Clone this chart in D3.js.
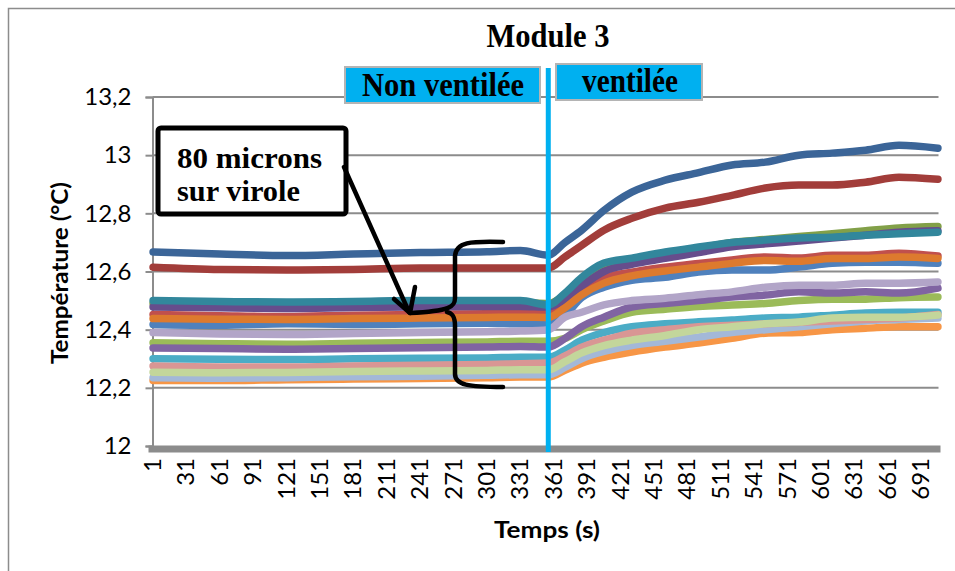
<!DOCTYPE html>
<html><head><meta charset="utf-8">
<script src="https://cdn.jsdelivr.net/npm/d3@7/dist/d3.min.js"></script>
<style>
html,body{margin:0;padding:0;background:#fff;}
svg{display:block;}
</style>
</head><body>
<svg id="chart" width="955" height="571"></svg>
<script>
// ---------- DATA ----------
const times = [1, 61, 121, 181, 241, 301, 331, 356, 371, 386, 406, 431, 461, 491, 521, 551, 581, 611, 641, 671, 706];
const nPoints = 706;
const ventTime = 356;
const xTickLabels = [1,31,61,91,121,151,181,211,241,271,301,331,361,391,421,451,481,511,541,571,601,631,661,691];
const yTickLabels = [12, 12.2, 12.4, 12.6, 12.8, 13, 13.2];

const s1  = [12.418,12.415,12.420,12.418,12.420,12.422,12.420,12.420,12.450,12.510,12.546,12.570,12.580,12.598,12.605,12.605,12.615,12.628,12.632,12.632,12.628];
const s2  = [12.452,12.448,12.445,12.450,12.452,12.455,12.456,12.455,12.490,12.536,12.577,12.598,12.615,12.628,12.640,12.650,12.646,12.656,12.656,12.663,12.653];
const s3  = [12.355,12.352,12.350,12.353,12.356,12.358,12.360,12.360,12.370,12.400,12.430,12.460,12.470,12.480,12.485,12.490,12.500,12.505,12.505,12.510,12.512];
const s4  = [12.337,12.335,12.333,12.335,12.338,12.340,12.342,12.340,12.370,12.410,12.443,12.478,12.490,12.500,12.512,12.519,12.530,12.526,12.530,12.526,12.543];
const s5  = [12.300,12.298,12.297,12.300,12.302,12.303,12.305,12.305,12.330,12.364,12.390,12.410,12.420,12.427,12.433,12.440,12.443,12.450,12.457,12.460,12.460];
const s6  = [12.225,12.225,12.228,12.230,12.232,12.235,12.237,12.237,12.260,12.285,12.305,12.323,12.340,12.354,12.370,12.388,12.390,12.400,12.405,12.410,12.410];
const s7  = [12.667,12.660,12.655,12.660,12.665,12.668,12.672,12.656,12.700,12.742,12.810,12.873,12.914,12.940,12.966,12.976,13.000,13.007,13.017,13.034,13.024];
const s8  = [12.615,12.607,12.605,12.607,12.612,12.612,12.612,12.612,12.650,12.690,12.742,12.783,12.818,12.838,12.862,12.887,12.897,12.897,12.907,12.924,12.917];
const s9  = [12.490,12.488,12.487,12.490,12.490,12.492,12.493,12.490,12.520,12.570,12.615,12.640,12.660,12.680,12.700,12.710,12.720,12.730,12.740,12.750,12.755];
const s10 = [12.478,12.475,12.473,12.476,12.478,12.480,12.480,12.478,12.505,12.550,12.600,12.625,12.645,12.665,12.685,12.695,12.705,12.715,12.725,12.735,12.740];
const s11 = [12.500,12.497,12.495,12.497,12.500,12.500,12.500,12.485,12.526,12.580,12.629,12.646,12.667,12.684,12.700,12.708,12.715,12.718,12.725,12.730,12.735];
const s12 = [12.438,12.436,12.435,12.438,12.440,12.442,12.443,12.442,12.475,12.520,12.560,12.585,12.602,12.615,12.628,12.638,12.635,12.645,12.645,12.650,12.645];
const s13 = [12.235,12.233,12.235,12.238,12.240,12.243,12.245,12.245,12.270,12.300,12.325,12.345,12.360,12.375,12.390,12.400,12.410,12.420,12.430,12.435,12.440];
const s14 = [12.275,12.272,12.272,12.275,12.278,12.280,12.283,12.285,12.310,12.340,12.364,12.388,12.400,12.410,12.415,12.420,12.425,12.430,12.435,12.440,12.452];
const s15 = [12.254,12.252,12.253,12.256,12.258,12.260,12.262,12.262,12.290,12.320,12.345,12.364,12.380,12.400,12.410,12.420,12.426,12.440,12.443,12.443,12.450];
const s16 = [12.390,12.385,12.383,12.387,12.390,12.393,12.395,12.400,12.443,12.460,12.485,12.500,12.508,12.520,12.530,12.546,12.553,12.553,12.560,12.560,12.564];

const seriesValues = [s1,s2,s3,s4,s5,s6,s7,s8,s9,s10,s11,s12,s13,s14,s15,s16];
const seriesColors = ["#4F81BD","#C0504D","#9BBB59","#8064A2","#4BACC6","#F79646",
                      "#3B6598","#A23D3A","#82A048","#664D8C","#32879C","#DD7A2E",
                      "#A3B8D8","#D99694","#C3D69B","#B2A5C8"];

// ---------- LAYOUT ----------
const svg = d3.select("#chart");
const plotL = 152.5, plotR = 938.5, plotT = 97, plotB = 446;

const x = d3.scaleLinear().domain([0.5, nPoints + 0.5]).range([plotL, plotR]);
const y = d3.scaleLinear().domain([12, 13.2]).range([plotB, plotT]);

// outer border
svg.append("rect").attr("x", 8.5).attr("y", 8.5).attr("width", 970).attr("height", 600)
  .attr("fill", "none").attr("stroke", "#8C8C8C").attr("stroke-width", 1.5);

// gridlines
svg.append("g").selectAll("line").data(yTickLabels.filter(v => v > 12)).join("line")
  .attr("x1", plotL).attr("x2", plotR)
  .attr("y1", d => y(d)).attr("y2", d => y(d))
  .attr("stroke", "#8C8C8C").attr("stroke-width", 2);

// y axis
const yAxis = d3.axisLeft(y).tickValues(yTickLabels).tickSize(7).tickPadding(14)
  .tickFormat(d => String(d).replace(".", ","));
const gy = svg.append("g").attr("transform", `translate(${plotL},0)`).call(yAxis);
gy.select(".domain").attr("stroke", "#8C8C8C").attr("stroke-width", 2);
gy.selectAll(".tick line").attr("stroke", "#8C8C8C").attr("stroke-width", 2);
gy.selectAll(".tick text").attr("font-family", "Lato, 'Open Sans', sans-serif")
  .attr("font-size", 24).attr("fill", "#000");

// lines
const line = d3.line().x((d, i) => x(times[i])).y(d => y(d)).curve(d3.curveMonotoneX);
svg.append("g").selectAll("path").data(seriesValues).join("path")
  .attr("d", d => line(d))
  .attr("fill", "none")
  .attr("stroke", (d, i) => seriesColors[i])
  .attr("stroke-width", 7.5)
  .attr("stroke-linejoin", "round").attr("stroke-linecap", "round");

// x axis band (base line at 12)
svg.append("line").attr("x1", plotL - 4).attr("x2", plotR + 2)
  .attr("y1", y(12) + 3).attr("y2", y(12) + 3)
  .attr("stroke", "#8C8C8C").attr("stroke-width", 7);

// x tick labels
svg.append("g").selectAll("text").data(xTickLabels).join("text")
  .attr("transform", d => `translate(${x(d) + 8},458) rotate(-90)`)
  .attr("text-anchor", "end")
  .attr("font-family", "Lato, 'Open Sans', sans-serif")
  .attr("font-size", 24).attr("fill", "#000")
  .text(d => d);

// axis titles
svg.append("text").attr("transform", "translate(68,273) rotate(-90)")
  .attr("text-anchor", "middle")
  .attr("font-family", "Lato, 'Open Sans', sans-serif").attr("font-weight", "bold")
  .attr("font-size", 22).attr("textLength", 182).attr("lengthAdjust", "spacingAndGlyphs")
  .text("Température (°C)");
svg.append("text").attr("x", 547).attr("y", 538)
  .attr("text-anchor", "middle")
  .attr("font-family", "Lato, 'Open Sans', sans-serif").attr("font-weight", "bold")
  .attr("font-size", 22).attr("textLength", 106).attr("lengthAdjust", "spacingAndGlyphs")
  .text("Temps (s)");

// title
svg.append("text").attr("x", 548).attr("y", 47).attr("text-anchor", "middle")
  .attr("font-family", "'Liberation Serif', 'Times New Roman', serif").attr("font-weight", "bold")
  .attr("font-size", 34).attr("textLength", 123).attr("lengthAdjust", "spacingAndGlyphs")
  .text("Module 3");

// ventilation marker line
svg.append("line").attr("x1", x(ventTime)).attr("x2", x(ventTime))
  .attr("y1", 68).attr("y2", 452)
  .attr("stroke", "#00B0F0").attr("stroke-width", 5);

// phase boxes
const boxes = [
  {label: "Non ventilée", x0: 345, x1: 540, y0: 67, y1: 103, tx: 443, ty: 96, tl: 162},
  {label: "ventilée", x0: 556, x1: 702, y0: 64, y1: 100, tx: 630, ty: 92, tl: 96}
];
boxes.forEach(b => {
  svg.append("rect").attr("x", b.x0).attr("y", b.y0).attr("width", b.x1 - b.x0).attr("height", b.y1 - b.y0)
    .attr("fill", "#00B0F0").attr("stroke", "#B4B4B4").attr("stroke-width", 2);
  svg.append("text").attr("x", b.tx).attr("y", b.ty).attr("text-anchor", "middle")
    .attr("font-family", "'Liberation Serif', 'Times New Roman', serif").attr("font-weight", "bold")
    .attr("font-size", 33).attr("textLength", b.tl).attr("lengthAdjust", "spacingAndGlyphs")
    .text(b.label);
});

// annotation box
svg.append("rect").attr("x", 158).attr("y", 128).attr("width", 188).attr("height", 86).attr("rx", 3)
  .attr("fill", "#fff").attr("stroke", "#000").attr("stroke-width", 5);
svg.append("text").attr("x", 177).attr("y", 168)
  .attr("font-family", "'Liberation Serif', 'Times New Roman', serif").attr("font-weight", "bold")
  .attr("font-size", 30).attr("textLength", 145).attr("lengthAdjust", "spacingAndGlyphs")
  .text("80 microns");
svg.append("text").attr("x", 177).attr("y", 201)
  .attr("font-family", "'Liberation Serif', 'Times New Roman', serif").attr("font-weight", "bold")
  .attr("font-size", 30).attr("textLength", 123).attr("lengthAdjust", "spacingAndGlyphs")
  .text("sur virole");

// arrow
svg.append("line").attr("x1", 344).attr("y1", 167).attr("x2", 409).attr("y2", 312)
  .attr("stroke", "#000").attr("stroke-width", 4.5).attr("stroke-linecap", "round");
svg.append("path").attr("d", "M415,287 L410,313 L394,299")
  .attr("fill", "none").attr("stroke", "#000").attr("stroke-width", 4.5)
  .attr("stroke-linecap", "round").attr("stroke-linejoin", "round");

// brace
svg.append("path")
  .attr("d", "M503,242 C470,241 456,242 455,256 L455,298 C455,307 450,311 410,313 " +
             "M447,312 C452,313 455,316 455,326 L455,374 C455,385 468,387 503,387")
  .attr("fill", "none").attr("stroke", "#000").attr("stroke-width", 4.5)
  .attr("stroke-linecap", "round").attr("stroke-linejoin", "round");
</script>
</body></html>
